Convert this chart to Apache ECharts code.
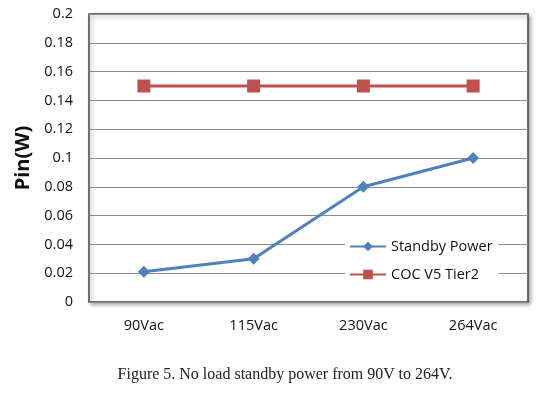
<!DOCTYPE html>
<html>
<head>
<meta charset="utf-8">
<title>Standby power</title>
<script src="https://cdn.jsdelivr.net/npm/echarts@6/dist/echarts.min.js"></script>
<style>
  body { margin: 0; background: #fff; }
  #main { width: 550px; height: 409px; }
  #cap { position: absolute; left: 20px; top: 365px; width: 530px; text-align: center;
         font-family: "Liberation Serif", "DejaVu Serif", serif; font-size: 16px; color: #222; }
</style>
</head>
<body>
<div id="main"></div>
<div id="cap">Figure 5. No load standby power from 90V to 264V.</div>
<script>
// data
var categories = ['90Vac', '115Vac', '230Vac', '264Vac'];
var standbyPower = [0.021, 0.03, 0.08, 0.1];
var cocTier2 = [0.15, 0.15, 0.15, 0.15];

var chart = echarts.init(document.getElementById('main'));
var font = '"Open Sans", "Liberation Sans", sans-serif';

chart.setOption({
  animation: false,
  grid: {
    left: 89, right: 22, top: 14, bottom: 107,
    show: true, borderColor: '#444', borderWidth: 1.5,
    backgroundColor: '#fff',
    shadowColor: 'rgba(0,0,0,0.35)', shadowBlur: 4, shadowOffsetX: 2, shadowOffsetY: 2
  },
  legend: {
    data: ['Standby Power', 'COC V5 Tier2'],
    orient: 'vertical',
    left: 345, top: 237,
    itemWidth: 36, itemHeight: 12, itemGap: 13,
    backgroundColor: '#fff',
    padding: [2, 6, 2, 4],
    textStyle: { fontFamily: font, fontSize: 14.5, color: '#111' }
  },
  xAxis: {
    type: 'category',
    data: categories,
    axisLine: { show: false },
    axisTick: { show: false },
    axisLabel: { margin: 16, fontFamily: font, fontSize: 14.5, color: '#111' }
  },
  yAxis: {
    type: 'value',
    min: 0, max: 0.2, interval: 0.02,
    name: 'Pin(W)',
    nameLocation: 'middle',
    nameGap: 53,
    nameRotate: 90,
    nameTextStyle: { fontFamily: font, fontSize: 20, fontWeight: 'bold', color: '#111' },
    axisLine: { show: false },
    axisTick: { show: false },
    axisLabel: { margin: 16, fontFamily: font, fontSize: 14.5, color: '#111' },
    splitLine: { lineStyle: { color: '#8c8c8c', width: 1 } }
  },
  series: [
    {
      name: 'Standby Power',
      type: 'line',
      data: standbyPower,
      symbol: 'diamond',
      symbolSize: 12,
      lineStyle: { color: '#4F81BD', width: 3 },
      itemStyle: { color: '#4F81BD' }
    },
    {
      name: 'COC V5 Tier2',
      type: 'line',
      data: cocTier2,
      symbol: 'rect',
      symbolSize: 13,
      lineStyle: { color: '#C0504D', width: 3 },
      itemStyle: { color: '#C0504D' }
    }
  ]
});
</script>
</body>
</html>
